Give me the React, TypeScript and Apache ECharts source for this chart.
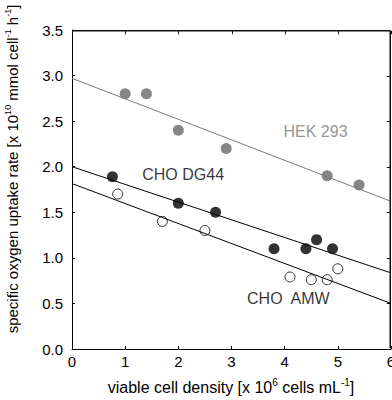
import React, { useEffect, useRef } from "react";
import * as echarts from "echarts";

const xTicks = [0, 1, 2, 3, 4, 5, 6];
const yTicks = [0, 0.5, 1, 1.5, 2, 2.5, 3, 3.5];
const yTickLabels = ["0.0", "0.5", "1.0", "1.5", "2.0", "2.5", "3.0", "3.5"];

const hekPoints: [number, number][] = [
  [1.0, 2.8], [1.4, 2.8], [2.0, 2.4], [2.9, 2.2], [4.8, 1.9], [5.4, 1.8],
];
const dg44Points: [number, number][] = [
  [0.76, 1.89], [2.0, 1.6], [2.7, 1.5], [3.8, 1.1], [4.4, 1.1], [4.6, 1.2], [4.9, 1.1],
];
const amwPoints: [number, number][] = [
  [0.86, 1.7], [1.7, 1.4], [2.5, 1.3], [4.1, 0.79], [4.5, 0.76], [4.8, 0.76], [5.0, 0.88],
];
const hekFit: [number, number][] = [[0, 2.97], [6, 1.62]];
const dg44Fit: [number, number][] = [[0, 2.0], [6, 0.835]];
const amwFit: [number, number][] = [[0, 1.815], [6, 0.5]];

const seriesLabels: { text: string; at: [number, number]; color: string }[] = [
  { text: "HEK 293", at: [4.58, 2.39], color: "#777777" },
  { text: "CHO DG44", at: [2.09, 1.914], color: "#000" },
  { text: "CHO  AMW", at: [4.07, 0.553], color: "#000" },
];

const FONT = "'Liberation Sans', Arial, Helvetica, sans-serif";

const richX = {
  n: { fontSize: 16, fontFamily: FONT, color: "#000", lineHeight: 19, verticalAlign: "middle" as const },
  s: { fontSize: 10, fontFamily: FONT, color: "#000", lineHeight: 11, verticalAlign: "top" as const },
};
const richY = {
  n: { fontSize: 15, fontFamily: FONT, color: "#000", lineHeight: 18, verticalAlign: "middle" as const },
  s: { fontSize: 9, fontFamily: FONT, color: "#000", lineHeight: 10, verticalAlign: "top" as const },
};

export default function App() {
  const ref = useRef<HTMLDivElement>(null);
  useEffect(() => {
    if (!ref.current) return;
    const chart = echarts.init(ref.current, undefined, { renderer: "svg" });
    const mkLine = () => ({ show: true, onZero: false, lineStyle: { color: "#000", width: 1 } });
    const mkTick = () => ({ show: true, inside: true, length: 3, lineStyle: { color: "#000", width: 1 } });
    const titles: any[] = [
      {
        type: "text",
        x: 231, y: 387,
        style: {
          text: "{n|viable cell density [x 10}{s|6}{n| cells mL}{s|-1}{n|]}",
          rich: richX,
          align: "center", verticalAlign: "middle",
        },
      },
      {
        type: "text",
        x: 12, y: 169, rotation: Math.PI / 2,
        style: {
          text: "{n|specific oxygen uptake rate [x 10}{s|10}{n| mmol cell}{s|-1}{n| h}{s|-1}{n|]}",
          rich: richY,
          align: "center", verticalAlign: "middle",
        },
      },
    ];
    chart.setOption({
      animation: false,
      backgroundColor: "#fff",
      textStyle: { fontFamily: FONT },
      grid: {
        left: 72, right: 1, top: 30, bottom: 51, containLabel: false,
        outerBoundsMode: "none",
      },
      xAxis: [
        {
          type: "value", min: 0, max: 6, interval: 1, position: "bottom",
          axisLine: mkLine(), axisTick: mkTick(), splitLine: { show: false },
          axisLabel: {
            color: "#000", fontSize: 15, margin: 5, fontFamily: FONT,
            formatter: (v: number) => (xTicks.includes(v) ? String(v) : ""),
          },
        },
      ],
      yAxis: [
        {
          type: "value", min: 0, max: 3.5, interval: 0.5, position: "left",
          axisLine: mkLine(), axisTick: mkTick(), splitLine: { show: false },
          axisLabel: {
            color: "#000", fontSize: 15, margin: 9, fontFamily: FONT,
            formatter: (v: number) => yTickLabels[Math.round(v / 0.5)] ?? "",
          },
        },
      ],
      graphic: titles,
      series: [
        {
          type: "line", data: hekFit, symbol: "none", silent: true,
          lineStyle: { color: "#7a7a7a", width: 1 },
        },
        {
          type: "line", data: dg44Fit, symbol: "none", silent: true,
          lineStyle: { color: "#000", width: 1 },
        },
        {
          type: "line", data: amwFit, symbol: "none", silent: true,
          lineStyle: { color: "#000", width: 1 },
        },
        {
          type: "scatter", data: hekPoints, symbol: "circle", symbolSize: 11,
          itemStyle: { color: "#686868" },
        },
        {
          type: "scatter", data: dg44Points, symbol: "circle", symbolSize: 11,
          itemStyle: { color: "#000" },
        },
        {
          type: "scatter", data: amwPoints, symbol: "circle", symbolSize: 10,
          itemStyle: { color: "#fff", borderColor: "#000", borderWidth: 1 },
        },
        {
          type: "scatter", symbolSize: 0, silent: true,
          data: seriesLabels.map((l) => ({
            value: l.at,
            label: {
              show: true, position: "inside", formatter: l.text,
              color: l.color, fontSize: 16, fontFamily: FONT,
            },
          })),
        },
      ],
    });

    try {
      const px = (v: [number, number]) =>
        chart.convertToPixel({ xAxisIndex: 0, yAxisIndex: 0 } as any, v) as unknown as number[];
      const p0 = px([0, 3.5]);
      const p1 = px([6, 0]);
      const L = Math.round(p0[0]) + 0.5;
      const R = Math.round(p1[0]) - 0.75;
      const T = Math.round(p0[1]) + 0.75;
      const B = Math.round(p1[1]) - 0.5;
      const stroke = { stroke: "#111", lineWidth: 1.5 };
      const tick = { stroke: "#111", lineWidth: 1 };
      const frame: any[] = [
        { type: "line", shape: { x1: L, y1: T, x2: R, y2: T }, style: stroke, z: 100 },
        { type: "line", shape: { x1: R, y1: T, x2: R, y2: B }, style: stroke, z: 100 },
      ];
      xTicks.forEach((t) => {
        const x = Math.round(px([t, 0])[0]) + 0.5;
        frame.push({ type: "line", shape: { x1: x, y1: T, x2: x, y2: T + 3.5 }, style: tick, z: 100 });
      });
      yTicks.forEach((t) => {
        const y = Math.round(px([0, t])[1]) + 0.5;
        frame.push({ type: "line", shape: { x1: R, y1: y, x2: R - 3.5, y2: y }, style: tick, z: 100 });
      });
      chart.setOption({ graphic: [...titles, ...frame] }, { replaceMerge: ["graphic"] });
    } catch (e) {
      // keep chart without frame if conversion fails
    }

    return () => chart.dispose();
  }, []);
  return (
    <div
      ref={ref}
      style={{ position: "fixed", left: 0, top: 0, width: 392, height: 400, background: "#fff" }}
    />
  );
}
